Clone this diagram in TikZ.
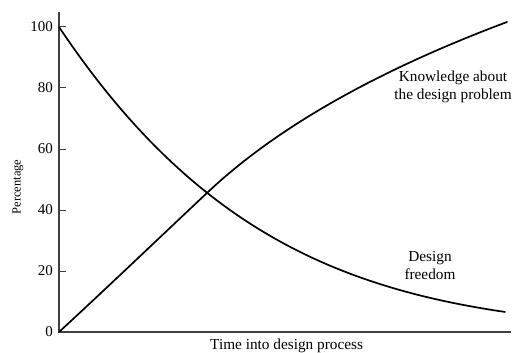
\documentclass[tikz,border=0pt]{standalone}
\usepackage{fontspec}
\setmainfont{Liberation Serif}
\begin{document}
\begin{tikzpicture}[x=1pt,y=-1pt,
  axisline/.style={draw=black!75,line width=1.3pt},
  tickline/.style={draw=black!75,line width=1pt},
  curve/.style={draw=black,line width=1.7pt,line cap=round,line join=round},
  ticklabel/.style={anchor=east,inner sep=0pt,font=\fontsize{15}{17}\selectfont},
  lab/.style={inner sep=0pt,align=center,font=\fontsize{15.3}{18}\selectfont}]
\useasboundingbox (0,0) rectangle (512,353);
% axes
\coordinate (top) at (59,12);
\coordinate (origin) at (59,332);
\coordinate (xend) at (511,332);
\draw[axisline] (top) -- (origin) -- (xend);
% ticks and labels
\foreach \v/\yy in {0/332,20/271,40/210,60/149,80/88,100/27}{
  \draw[tickline] (59,\yy) -- (66,\yy);
  \node[ticklabel] (t\v) at (53,\yy) {\v};
}
% design freedom
\draw[curve] plot[domain=0:446,samples=120,smooth] ({59+\x},{332-305*exp(-(0.0049*\x+0.027*(\x/100)^2))});
% knowledge
\coordinate (kstart) at (59,332);
\coordinate (kcross) at (208,192);
\coordinate (kend) at (507,22);
\draw[curve] (kstart) .. controls (110,285) and (158,239) .. (kcross)
  .. controls (276.3,127.8) and (376,71.1) .. (kend);
% labels
\node[lab] (know) at (453,87) {Knowledge about\\the design problem};
\node[lab] (free) at (430,266) {Design\\freedom};
\node[lab,anchor=base west] (xlab) at (210,349) {Time into design process};
\node[inner sep=0pt,rotate=90,font=\fontsize{12.5}{15}\selectfont] (ylab) at (18,187) {Percentage};
\end{tikzpicture}
\end{document}
